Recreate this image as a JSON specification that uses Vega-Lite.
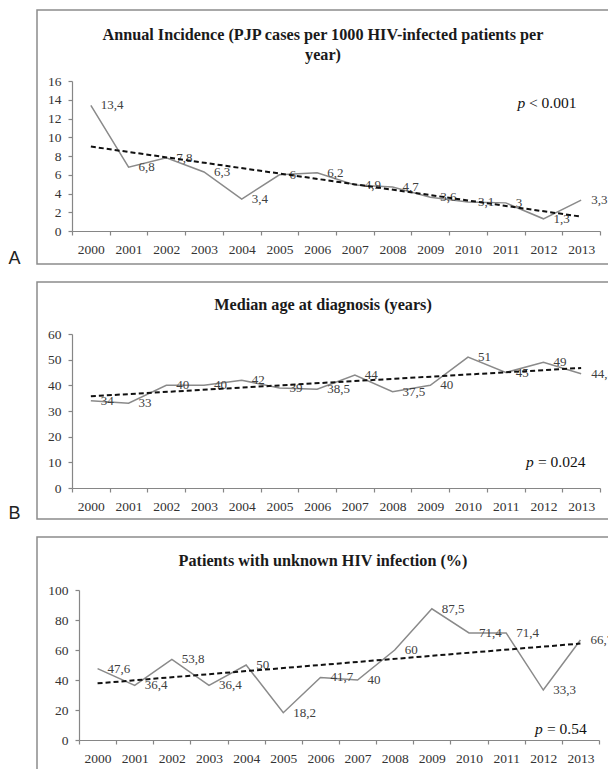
{
  "$schema": "https://vega.github.io/schema/vega-lite/v6.json",
  "padding": {"left": 6, "top": 9, "right": 0, "bottom": 0},
  "background": "white",
  "config": {
    "view": {"stroke": "#8c8c8c", "strokeWidth": 1.5},
    "font": "Liberation Serif",
    "axis": {
      "domainColor": "#868686", "tickColor": "#868686", "domainWidth": 1.2, "tickWidth": 1.2,
      "labelColor": "#333333", "labelFont": "Liberation Serif", "labelFontSize": 13.5,
      "grid": false, "tickSize": 4, "labelPadding": 7, "labelOverlap": false
    },
    "axisX": {"labelAngle": 0, "tickBand": "extent"},
    "axisY": {"titleAngle": 0, "titleFont": "Liberation Sans", "titleFontSize": 18, "titleFontWeight": "normal", "titleColor": "#222222", "titleAlign": "center", "titleBaseline": "middle"},
    "title": {"font": "Liberation Serif", "fontWeight": "bold", "fontSize": 16.2, "color": "#1a1a1a", "anchor": "middle", "frame": "group", "lineHeight": 20},
    "concat": {"spacing": 13}
  },
  "datasets": {
    "incidence": [
      {"year": "2000", "value": 13.4, "label": "13,4"},
      {"year": "2001", "value": 6.8, "label": "6,8"},
      {"year": "2002", "value": 7.8, "label": "7,8"},
      {"year": "2003", "value": 6.3, "label": "6,3"},
      {"year": "2004", "value": 3.4, "label": "3,4"},
      {"year": "2005", "value": 6, "label": "6"},
      {"year": "2006", "value": 6.2, "label": "6,2"},
      {"year": "2007", "value": 4.9, "label": "4,9"},
      {"year": "2008", "value": 4.7, "label": "4,7"},
      {"year": "2009", "value": 3.6, "label": "3,6"},
      {"year": "2010", "value": 3.1, "label": "3,1"},
      {"year": "2011", "value": 3, "label": "3"},
      {"year": "2012", "value": 1.3, "label": "1,3"},
      {"year": "2013", "value": 3.3, "label": "3,3"}
    ],
    "age": [
      {"year": "2000", "value": 34, "label": "34"},
      {"year": "2001", "value": 33, "label": "33"},
      {"year": "2002", "value": 40, "label": "40"},
      {"year": "2003", "value": 40, "label": "40"},
      {"year": "2004", "value": 42, "label": "42"},
      {"year": "2005", "value": 39, "label": "39"},
      {"year": "2006", "value": 38.5, "label": "38,5"},
      {"year": "2007", "value": 44, "label": "44"},
      {"year": "2008", "value": 37.5, "label": "37,5"},
      {"year": "2009", "value": 40, "label": "40"},
      {"year": "2010", "value": 51, "label": "51"},
      {"year": "2011", "value": 45, "label": "45"},
      {"year": "2012", "value": 49, "label": "49"},
      {"year": "2013", "value": 44.5, "label": "44,5"}
    ],
    "unknown": [
      {"year": "2000", "value": 47.6, "label": "47,6"},
      {"year": "2001", "value": 36.4, "label": "36,4"},
      {"year": "2002", "value": 53.8, "label": "53,8"},
      {"year": "2003", "value": 36.4, "label": "36,4"},
      {"year": "2004", "value": 50, "label": "50"},
      {"year": "2005", "value": 18.2, "label": "18,2"},
      {"year": "2006", "value": 41.7, "label": "41,7"},
      {"year": "2007", "value": 40, "label": "40"},
      {"year": "2008", "value": 60, "label": "60"},
      {"year": "2009", "value": 87.5, "label": "87,5"},
      {"year": "2010", "value": 71.4, "label": "71,4"},
      {"year": "2011", "value": 71.4, "label": "71,4"},
      {"year": "2012", "value": 33.3, "label": "33,3"},
      {"year": "2013", "value": 66.7, "label": "66,7"}
    ],
    "trendIncidence": [{"year": "2000", "value": 9.01}, {"year": "2013", "value": 1.53}],
    "trendAge": [{"year": "2000", "value": 35.74}, {"year": "2013", "value": 46.76}],
    "trendUnknown": [{"year": "2000", "value": 37.76}, {"year": "2013", "value": 64.3}],
    "pIncidence": [{"year": "2012", "value": 13.65, "p": "p", "stat": "< 0.001"}],
    "pAge": [{"year": "2012", "value": 10.1, "p": "p", "stat": "= 0.024"}],
    "pUnknown": [{"year": "2012", "value": 7.3, "p": "p", "stat": "= 0.54"}]
  },
  "vconcat": [
    {
      "width": 572, "height": 254,
      "title": {"text": ["Annual Incidence (PJP cases per 1000 HIV-infected patients per", "year)"], "offset": -53},
      "encoding": {
        "x": {"field": "year", "type": "ordinal", "scale": {"type": "band", "range": [35, 563], "paddingInner": 0, "paddingOuter": 0}, "axis": {"title": null, "offset": -33}},
        "y": {"field": "value", "type": "quantitative", "scale": {"domain": [0, 16], "range": [221, 71], "nice": false}, "axis": {"title": "A", "offset": -35, "values": [0, 2, 4, 6, 8, 10, 12, 14, 16], "titleX": -58, "titleY": 248}}
      },
      "layer": [
        {"data": {"name": "incidence"}, "mark": {"type": "line", "color": "#8a8a8a", "strokeWidth": 1.5}, "encoding": {}},
        {"data": {"name": "incidence"}, "mark": {"type": "text", "align": "left", "baseline": "middle", "dx": 10, "fontSize": 13, "color": "#404040"}, "encoding": {"text": {"field": "label"}}},
        {"data": {"name": "trendIncidence"}, "mark": {"type": "line", "color": "#111111", "strokeWidth": 2, "strokeDash": [5, 3]}, "encoding": {}},
        {"data": {"name": "pIncidence"}, "mark": {"type": "text", "align": "left", "baseline": "middle", "dx": -26, "fontSize": 15.5, "fontStyle": "italic", "color": "#111111"}, "encoding": {"text": {"field": "p"}}},
        {"data": {"name": "pIncidence"}, "mark": {"type": "text", "align": "left", "baseline": "middle", "dx": -14.5, "fontSize": 15.5, "color": "#111111"}, "encoding": {"text": {"field": "stat"}}}
      ]
    },
    {
      "width": 572, "height": 237,
      "title": {"text": "Median age at diagnosis (years)", "offset": -31},
      "encoding": {
        "x": {"field": "year", "type": "ordinal", "scale": {"type": "band", "range": [35, 563], "paddingInner": 0, "paddingOuter": 0}, "axis": {"title": null, "offset": -31}},
        "y": {"field": "value", "type": "quantitative", "scale": {"domain": [0, 60], "range": [206, 52], "nice": false}, "axis": {"title": "B", "offset": -35, "values": [0, 10, 20, 30, 40, 50, 60], "titleX": -58, "titleY": 231}}
      },
      "layer": [
        {"data": {"name": "age"}, "mark": {"type": "line", "color": "#8a8a8a", "strokeWidth": 1.5}, "encoding": {}},
        {"data": {"name": "age"}, "mark": {"type": "text", "align": "left", "baseline": "middle", "dx": 10, "fontSize": 13, "color": "#404040"}, "encoding": {"text": {"field": "label"}}},
        {"data": {"name": "trendAge"}, "mark": {"type": "line", "color": "#111111", "strokeWidth": 2, "strokeDash": [5, 3]}, "encoding": {}},
        {"data": {"name": "pAge"}, "mark": {"type": "text", "align": "left", "baseline": "middle", "dx": -17.4, "fontSize": 15.5, "fontStyle": "italic", "color": "#111111"}, "encoding": {"text": {"field": "p"}}},
        {"data": {"name": "pAge"}, "mark": {"type": "text", "align": "left", "baseline": "middle", "dx": -5.5, "fontSize": 15.5, "color": "#111111"}, "encoding": {"text": {"field": "stat"}}}
      ]
    },
    {
      "width": 572, "height": 250,
      "title": {"text": "Patients with unknown HIV infection (%)", "offset": -32},
      "encoding": {
        "x": {"field": "year", "type": "ordinal", "scale": {"type": "band", "range": [42, 562], "paddingInner": 0, "paddingOuter": 0}, "axis": {"title": null, "offset": -47}},
        "y": {"field": "value", "type": "quantitative", "scale": {"domain": [0, 100], "range": [203, 53], "nice": false}, "axis": {"title": "C", "offset": -42, "values": [0, 20, 40, 60, 80, 100], "titleX": -65, "titleY": 239}}
      },
      "layer": [
        {"data": {"name": "unknown"}, "mark": {"type": "line", "color": "#8a8a8a", "strokeWidth": 1.5}, "encoding": {}},
        {"data": {"name": "unknown"}, "mark": {"type": "text", "align": "left", "baseline": "middle", "dx": 10, "fontSize": 13, "color": "#404040"}, "encoding": {"text": {"field": "label"}}},
        {"data": {"name": "trendUnknown"}, "mark": {"type": "line", "color": "#111111", "strokeWidth": 2, "strokeDash": [5, 3]}, "encoding": {}},
        {"data": {"name": "pUnknown"}, "mark": {"type": "text", "align": "left", "baseline": "middle", "dx": -8.3, "fontSize": 15.5, "fontStyle": "italic", "color": "#111111"}, "encoding": {"text": {"field": "p"}}},
        {"data": {"name": "pUnknown"}, "mark": {"type": "text", "align": "left", "baseline": "middle", "dx": 3.6, "fontSize": 15.5, "color": "#111111"}, "encoding": {"text": {"field": "stat"}}}
      ]
    }
  ]
}
